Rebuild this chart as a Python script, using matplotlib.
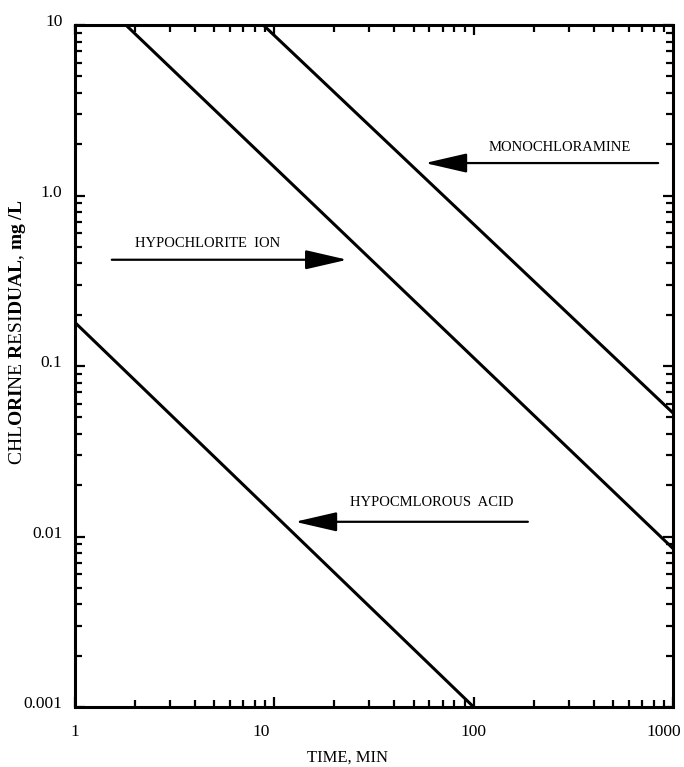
import matplotlib
matplotlib.use('Agg')
import matplotlib.pyplot as plt
import matplotlib.transforms as mtransforms
from matplotlib.ticker import LogLocator, FixedLocator, FixedFormatter, NullFormatter

plt.rcParams['font.family'] = ['Liberation Serif', 'DejaVu Serif']
plt.rcParams['mathtext.fontset'] = 'custom'
plt.rcParams['mathtext.rm'] = 'Liberation Serif'
plt.rcParams['mathtext.bf'] = 'Liberation Serif:bold'

# line end points (time in min, residual in mg/L)
hocl_time = [1, 100]
hocl_resid = [0.18, 0.001]
ocl_time = [1.8, 1000]
ocl_resid = [10, 0.0085]
nh2cl_time = [8.8, 1000]
nh2cl_resid = [10, 0.053]

# labels with arrows: (text, text x, text y, arrow start x, arrow tip x, arrow y)
labels = [
    ('MONOCHLORAMINE', 271, 1.9, 842, 57, 1.55),
    ('HYPOCHLORITE  ION', 4.65, 0.52, 1.53, 23.2, 0.42),
    ('HYPOCMLOROUS  ACID', 61.8, 0.0159, 187, 12.7, 0.0122),
]

y_ticks = [0.001, 0.01, 0.1, 1, 10]
y_tick_labels = ['0.001', '0.01', '0.1', '1.0', '10']
x_ticks = [1, 10, 100, 1000]
x_tick_labels = ['1', '10', '100', '1000']

fig = plt.figure(figsize=(6.84, 7.67), dpi=100)
ax = fig.add_axes([0.1096, 0.0782, 0.8744, 0.8892])

for t, r in [(hocl_time, hocl_resid), (ocl_time, ocl_resid), (nh2cl_time, nh2cl_resid)]:
    ax.plot(t, r, color='black', linewidth=2.2, solid_capstyle='butt')

for txt, tx, ty, x0, x1, ay in labels:
    ax.text(tx, ty, txt, ha='center', va='center', fontsize=10.5)
    ax.annotate('', xy=(x1, ay), xytext=(x0, ay), xycoords='data', textcoords='data',
                arrowprops=dict(arrowstyle='-|>,head_length=2.6,head_width=0.6',
                                mutation_scale=10, color='black', lw=1.6,
                                shrinkA=0, shrinkB=0))

ax.set_xscale('log')
ax.set_yscale('log')
ax.set_xlim(1, 1000)
ax.set_ylim(0.001, 10)

ax.xaxis.set_major_locator(FixedLocator(x_ticks))
ax.xaxis.set_major_formatter(FixedFormatter(x_tick_labels))
ax.yaxis.set_major_locator(FixedLocator(y_ticks))
ax.yaxis.set_major_formatter(FixedFormatter(y_tick_labels))
ax.xaxis.set_minor_locator(LogLocator(base=10, subs=range(2, 10)))
ax.yaxis.set_minor_locator(LogLocator(base=10, subs=range(2, 10)))
ax.xaxis.set_minor_formatter(NullFormatter())
ax.yaxis.set_minor_formatter(NullFormatter())

ax.tick_params(which='both', direction='in', top=True, right=True, width=1.6, colors='black')
ax.tick_params(which='major', length=7, labelsize=12.5)
ax.tick_params(which='minor', length=5)
ax.tick_params(axis='y', which='major', pad=9)
ax.tick_params(axis='x', which='major', pad=12)
for s in ax.spines.values():
    s.set_linewidth(2.2)

# the scanned labels sit a little off their ticks
for lab in ax.get_yticklabels():
    lab.set_transform(lab.get_transform() + mtransforms.ScaledTranslation(0, 5 / 100, fig.dpi_scale_trans))
xshift = {'10': -13, '1000': -9}
for lab in ax.get_xticklabels():
    dx = xshift.get(lab.get_text(), 0)
    lab.set_transform(lab.get_transform() + mtransforms.ScaledTranslation(dx / 100, 0, fig.dpi_scale_trans))

ax.set_xlabel('TIME, MIN', fontsize=12)
ax.set_ylabel(r'CHL$\mathbf{ORI}$NE $\mathbf{R}$ESI$\mathbf{DUAL}$, $\mathbf{mg}$ $\mathbf{/L}$', fontsize=14)
ax.yaxis.set_label_coords(-0.078, 0.55)
ax.xaxis.set_label_coords(0.455, -0.063)

fig.savefig('out.png', dpi=100)
